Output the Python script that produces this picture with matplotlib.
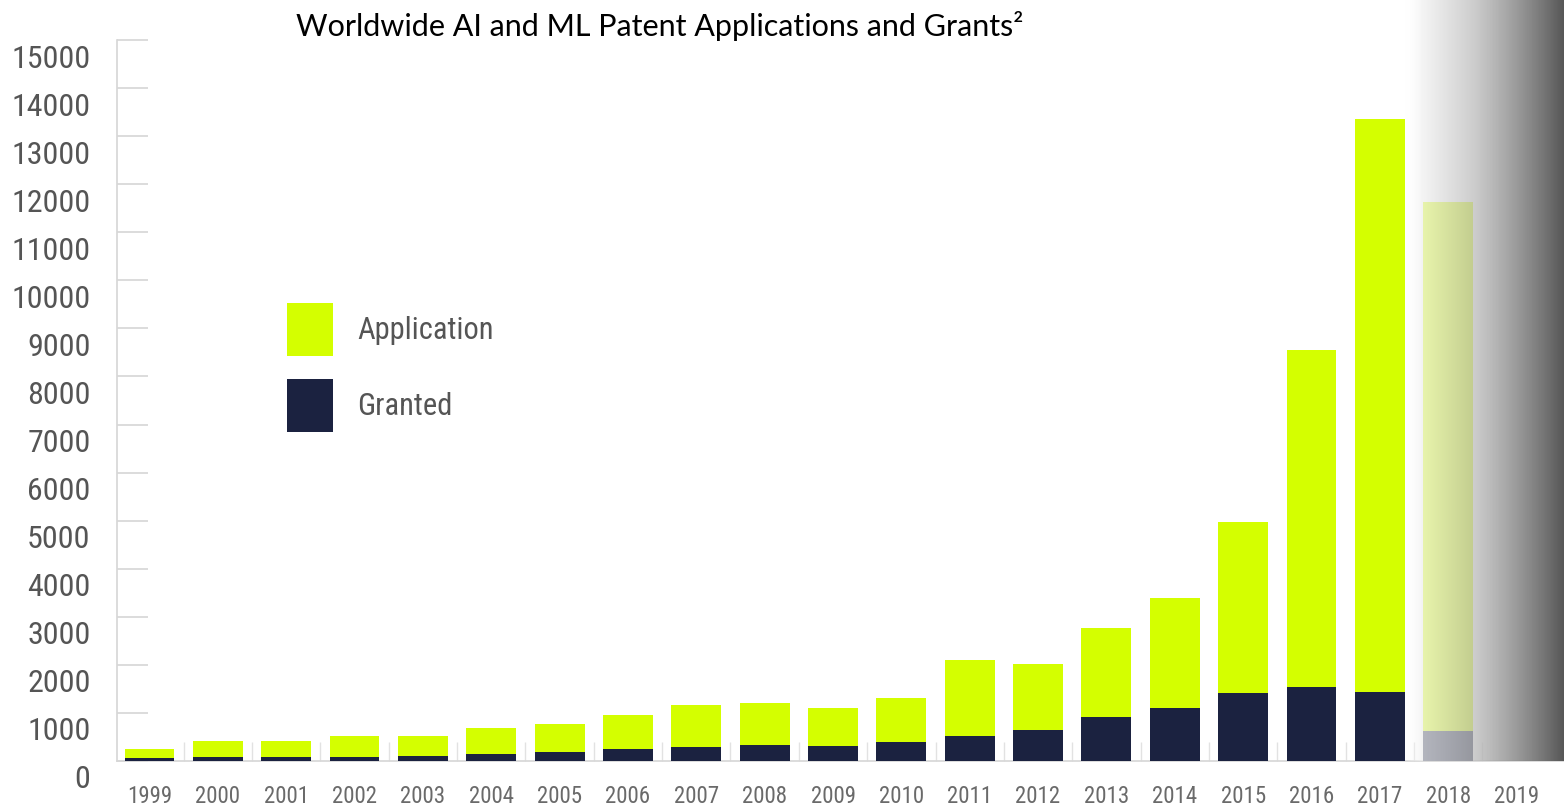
import matplotlib.pyplot as plt
import numpy as np
from matplotlib import font_manager
from matplotlib.patches import Patch
from matplotlib.transforms import ScaledTranslation

# values
years = [str(y) for y in range(1999, 2020)]
application = [240, 420, 420, 520, 520, 680, 780, 950, 1160, 1200, 1110,
               1320, 2100, 2020, 2760, 3390, 4970, 8550, 13350, 11630, 0]
granted = [60, 75, 75, 85, 95, 150, 185, 250, 300, 335, 315,
           405, 510, 640, 920, 1110, 1410, 1540, 1435, 625, 0]
y_ticks = list(range(0, 15001, 1000))

W, H, DPI = 1564, 809, 100
APP_COLOR = "#d4ff00"
GRANT_COLOR = "#1b2240"
AXIS_GRAY = "#d6d6d6"


def pick_narrow_font():
    """Find a condensed sans face; fall back to Roboto scaled down."""
    fonts = font_manager.fontManager.ttflist
    names = {f.name for f in fonts}
    for cand in ("Liberation Sans Narrow", "Roboto Condensed", "Arial Narrow",
                 "Nimbus Sans Narrow", "DejaVu Sans Condensed",
                 "Noto Sans Condensed", "Open Sans Condensed"):
        if cand in names:
            return {"family": cand}, 1.0
    for f in fonts:
        if (f.stretch in ("condensed", "semi-condensed", "extra-condensed")
                and f.style == "normal" and f.weight in (400, "normal")):
            return {"family": f.name, "stretch": f.stretch}, 1.0
    return {"family": "Roboto"}, 0.8


narrow, scale = pick_narrow_font()

fig = plt.figure(figsize=(W / DPI, H / DPI), dpi=DPI)

# axes placed in pixel terms: left spine at x=117, baseline at y=761, 15000 at y=40
ax_left, ax_base, ax_top = 117, 761, 40
ax = fig.add_axes([ax_left / W, (H - ax_base) / H, (W - ax_left) / W,
                   (ax_base - ax_top) / H])

x = np.arange(len(years))
ax.bar(x, application, width=0.73, color=APP_COLOR, zorder=2)
ax.bar(x, granted, width=0.73, color=GRANT_COLOR, zorder=3)

# x scale: 1999 centre at 149.5 px, 68.35 px per year
step = 68.35
ax.set_xlim((ax_left - 149.5) / step, (W - 149.5) / step)
ax.set_ylim(0, 15000)

for side in ("top", "right"):
    ax.spines[side].set_visible(False)
for side in ("left", "bottom"):
    ax.spines[side].set_color(AXIS_GRAY)
    ax.spines[side].set_linewidth(1.2)

ax.set_yticks(y_ticks)
ax.set_yticklabels([str(v) for v in y_ticks])
ax.tick_params(axis="y", direction="in", length=22, width=1.2,
               color=AXIS_GRAY, pad=19, labelcolor="#555555")
for lab in ax.get_yticklabels():
    lab.set(**narrow, size=23 * scale)
    lab.set_transform(lab.get_transform()
                      + ScaledTranslation(0, -16 / DPI, fig.dpi_scale_trans))

ax.set_xticks(x)
ax.set_xticklabels(years)
ax.set_xticks(x[:-1] + 0.5, minor=True)
ax.tick_params(axis="x", which="major", length=0, pad=17,
               labelcolor="#6a6a6a")
ax.tick_params(axis="x", which="minor", direction="in", length=13.5,
               width=1.0, color="#e2e2e2")
for lab in ax.get_xticklabels():
    lab.set(**narrow, size=16.5 * scale)

handles = [Patch(facecolor=APP_COLOR, label="Application"),
           Patch(facecolor=GRANT_COLOR, label="Granted")]
legend_prop = font_manager.FontProperties(**narrow, size=22 * scale)
ax.legend(handles=handles, loc="upper left",
          bbox_to_anchor=(287 / W, 1 - 303 / H),
          bbox_transform=fig.transFigure, frameon=False,
          prop=legend_prop, labelcolor="#555555",
          handlelength=1.5 / scale, handleheight=2.3 / scale,
          handletextpad=0.8 / scale, labelspacing=0.75 / scale,
          borderpad=0, borderaxespad=0)

fig.text(660 / W, 1 - 26 / H,
         "Worldwide AI and ML Patent Applications and Grants\u00b2",
         ha="center", va="center", fontsize=22, family=["Lato", "DejaVu Sans"],
         color="black")

# grey fade over the right edge (2018 / 2019 columns)
g_x0 = 1404
cols = np.arange(g_x0, W, dtype=float)
gray = np.interp(cols, [g_x0, 1422, 1473, W], [255, 240, 190, 85]) / 255.0
alpha = np.interp(cols, [g_x0, 1422, 1473, W], [0.0, 0.72, 0.76, 1.0])
rgba = np.zeros((2, cols.size, 4))
rgba[..., 0] = gray
rgba[..., 1] = gray
rgba[..., 2] = gray
rgba[..., 3] = alpha
fade = fig.add_axes([g_x0 / W, (H - ax_base) / H, (W - g_x0) / W, ax_base / H],
                    zorder=5)
fade.imshow(rgba, aspect="auto", interpolation="bilinear")
fade.set_axis_off()

fig.savefig("out.png", dpi=DPI)
